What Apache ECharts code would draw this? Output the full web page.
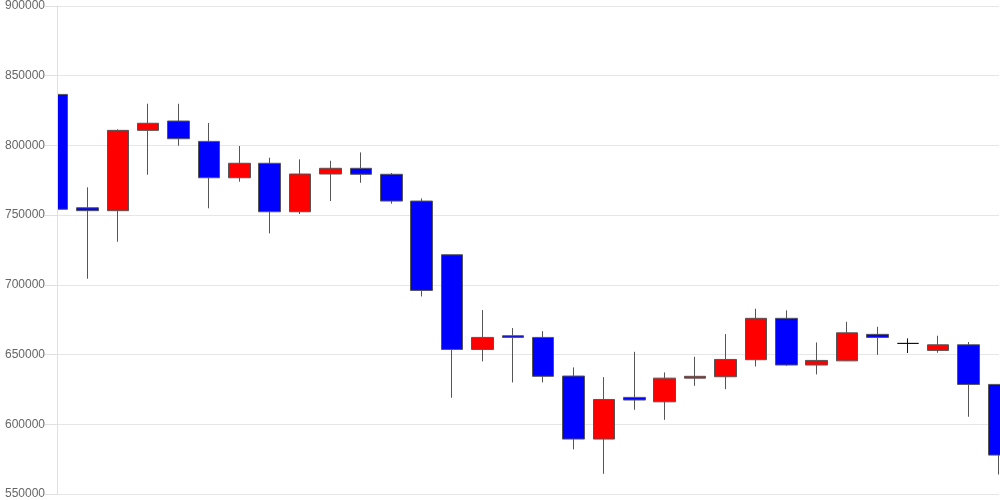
<!DOCTYPE html>
<html>
<head>
<meta charset="utf-8">
<script src="https://cdn.jsdelivr.net/npm/echarts@6/dist/echarts.min.js"></script>
<style>
html,body{margin:0;padding:0;background:#fff;}
#chart{width:1000px;height:500px;}
</style>
</head>
<body>
<div id="chart"></div>
<script>
// Categories (no labels shown in the reference)
const categories = ["1","2","3","4","5","6","7","8","9","10","11","12","13","14","15","16",
  "17","18","19","20","21","22","23","24","25","26","27","28","29","30","31","32"];
const opens  = [836600,755300,753200,810800,817500,802900,776800,787200,752400,779500,783600,779300,760100,721600,653700,663500,
  662300,634600,589400,619300,616100,633100,634100,646300,676000,642500,645500,664500,658000,653000,657000,628600];
const closes = [754200,753200,810800,815900,804800,776800,787200,752400,779500,783600,779300,760100,696000,653700,662300,662300,
  634400,589400,617800,617400,633100,634400,646500,676000,642500,645800,665600,662300,658000,657000,628600,577900];
const lows   = [712500,704400,730900,779000,799800,754900,774000,736900,750800,760100,773200,758200,691700,619000,645100,630000,
  630000,582000,564500,610400,603200,627600,625200,641500,642000,635800,645300,649800,651100,651300,605400,564000];
const highs  = [844000,769900,811500,829900,829900,816100,799600,791200,790000,789000,795000,780200,762000,721600,681900,669000,
  666800,640800,633800,652000,637200,648400,664700,682900,681700,658700,673500,669900,661600,663500,659000,628600];
const yTicks = { min: 550000, max: 900000, interval: 50000 };

const data = categories.map((c, i) => [opens[i], closes[i], lows[i], highs[i]]);

const GRID_LEFT = 57;
const chart = echarts.init(document.getElementById('chart'));
chart.setOption({
  animation: false,
  backgroundColor: '#fff',
  grid: { left: GRID_LEFT, right: 1, top: 6, bottom: 6, containLabel: false },
  graphic: [{
    type: 'rect',
    z: 5,
    shape: { x: 0, y: 0, width: GRID_LEFT, height: 500 },
    style: { fill: '#fff' },
    silent: true
  }],
  xAxis: {
    type: 'category',
    data: categories,
    boundaryGap: false,
    axisLine: { show: false },
    axisTick: { show: false },
    axisLabel: { show: false },
    splitLine: { show: false }
  },
  yAxis: [{
    type: 'value',
    z: 0,
    position: 'left',
    min: yTicks.min,
    max: yTicks.max,
    interval: yTicks.interval,
    axisLine: { show: false },
    axisTick: { show: false },
    axisLabel: { show: false },
    splitLine: { show: true, lineStyle: { color: '#e6e6e6' } }
  }, {
    type: 'value',
    z: 10,
    position: 'left',
    offset: 0,
    min: yTicks.min,
    max: yTicks.max,
    interval: yTicks.interval,
    axisLine: { show: true, lineStyle: { color: '#e0e0e0' } },
    axisTick: { show: true, length: 12, lineStyle: { color: '#e0e0e0' } },
    axisLabel: {
      color: '#666', fontSize: 12, fontFamily: 'Liberation Sans, Arial, sans-serif', margin: 12,
      formatter: v => String(v)
    },
    splitLine: { show: false }
  }],
  series: [{
    type: 'candlestick',
    yAxisIndex: 0,
    data: data,
    barWidth: 22,
    clip: true,
    itemStyle: {
      color: '#ff0000',
      color0: '#0000ff',
      borderColor: '#555',
      borderColor0: '#555',
      borderColorDoji: '#111',
      borderWidth: 1
    }
  }]
});
</script>
</body>
</html>
